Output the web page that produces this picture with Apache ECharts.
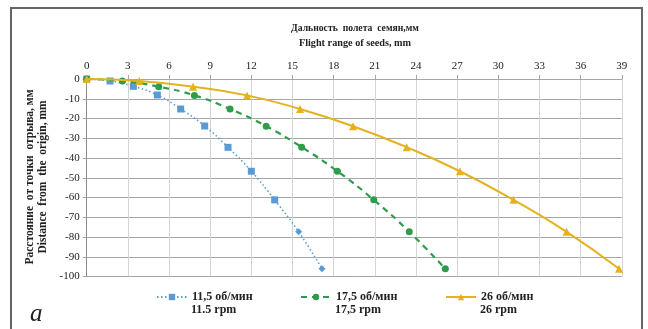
<!DOCTYPE html>
<html>
<head>
<meta charset="utf-8">
<script src="https://cdn.jsdelivr.net/npm/echarts@6/dist/echarts.min.js"></script>
<style>html,body{margin:0;padding:0;background:#fff;}#c{width:648px;height:329px;}</style>
</head>
<body>
<div id="c"></div>
<script>
// Data
const seriesNames = ['11,5 об/мин', '17,5 об/мин', '26 об/мин'];
const seriesSubNames = ['11.5 rpm', '17,5 rpm', '26 rpm'];
const xBlue   = [0, 1.7, 3.4, 5.15, 6.85, 8.6, 10.3, 12.0, 13.7, 15.45, 17.15];
const yBlue   = [0, -1.0, -3.7, -8.1, -15.2, -23.8, -34.6, -46.7, -61.2, -77.4, -96.1];
const xGreen  = [0, 2.6, 5.25, 7.85, 10.45, 13.08, 15.67, 18.27, 20.92, 23.51, 26.14];
const yGreen  = [0, -1.0, -3.9, -8.3, -15.2, -23.9, -34.5, -46.7, -61.2, -77.4, -96.1];
const xYellow = [0, 3.84, 7.75, 11.69, 15.55, 19.41, 23.32, 27.2, 31.1, 34.98, 38.8];
const yYellow = [0, -1.0, -3.9, -8.3, -15.2, -23.9, -34.5, -46.7, -61.2, -77.4, -96.1];
const xTicks = {min: 0, max: 39, step: 3};
const yTicks = {min: -100, max: 0, step: 10};
const titleLines = ['Дальность  полета  семян,мм', 'Flight range of seeds, mm'];
const yNameLines = ['Расстояние  от точки  отрыва, мм', 'Distance  from  the  origin, mm'];

const serif = '"Liberation Serif", "Times New Roman", serif';
const colors = ['#5b9bd5', '#2e9c4a', '#e4b21d'];
const pair = (xs, ys) => xs.map((x, i) => [x, ys[i]]);

const chart = echarts.init(document.getElementById('c'), null, {renderer: 'canvas'});
const legendX = [151, 295, 440];
chart.setOption({
  animation: false,
  backgroundColor: '#fff',
  grid: {left: 86.7, right: 26.2, top: 79, bottom: 52.5, containLabel: false},
  xAxis: {
    type: 'value', position: 'top', min: xTicks.min, max: xTicks.max, interval: xTicks.step,
    axisLine: {show: true, onZero: false, lineStyle: {color: '#a6a6a6', width: 1}},
    axisTick: {show: true, inside: false, length: 4, lineStyle: {color: '#a6a6a6'}},
    axisLabel: {fontFamily: serif, fontSize: 11, color: '#222', margin: 7},
    splitLine: {show: true, lineStyle: {color: '#d4d4d4', width: 1}}
  },
  yAxis: {
    type: 'value', min: yTicks.min, max: yTicks.max, interval: yTicks.step,
    axisLine: {show: true, onZero: false, lineStyle: {color: '#8c8c8c', width: 1}},
    axisTick: {show: true, inside: false, length: 4, lineStyle: {color: '#a6a6a6'}},
    axisLabel: {fontFamily: serif, fontSize: 11, color: '#222', margin: 7},
    splitLine: {show: true, lineStyle: {color: '#a6a6a6', width: 1}}
  },
  legend: seriesNames.map((n, i) => ({
    data: [n], left: legendX[i], top: 286, itemWidth: 30, itemHeight: 8, itemGap: 6,
    textStyle: {fontFamily: serif, fontSize: 12, fontWeight: 'bold', color: '#222'}
  })),
  series: [
    {name: seriesNames[0], type: 'line', smooth: true, z: 3,
     data: pair(xBlue, yBlue).map((p, i) => i >= 9 ? {value: p, symbol: 'diamond'} : {value: p}),
     symbol: 'rect', symbolSize: 7,
     itemStyle: {color: colors[0]}, lineStyle: {color: colors[0], width: 1.6, type: [1.5, 2.5]}},
    {name: seriesNames[1], type: 'line', data: pair(xGreen, yGreen), smooth: true, z: 4,
     symbol: 'circle', symbolSize: 7,
     itemStyle: {color: colors[1]}, lineStyle: {color: colors[1], width: 2.2, type: [6, 5]}},
    {name: seriesNames[2], type: 'line', data: pair(xYellow, yYellow), smooth: true, z: 5,
     symbol: 'triangle', symbolSize: 8,
     itemStyle: {color: colors[2]}, lineStyle: {color: colors[2], width: 2}}
  ],
  graphic: [
    {type: 'rect', shape: {x: 11, y: 8, width: 631, height: 340}, style: {fill: 'none', stroke: '#666', lineWidth: 2}, silent: true},
    {type: 'text', x: 355, y: 28, scaleX: 0.88, style: {text: titleLines[0], fontFamily: serif, fontSize: 11, fontWeight: 'bold', fill: '#222', textAlign: 'center', textVerticalAlign: 'middle'}},
    {type: 'text', x: 355, y: 43, scaleX: 0.93, style: {text: titleLines[1], fontFamily: serif, fontSize: 11, fontWeight: 'bold', fill: '#222', textAlign: 'center', textVerticalAlign: 'middle'}},
    {type: 'text', x: 30, y: 177, rotation: Math.PI / 2, style: {text: yNameLines[0], fontFamily: serif, fontSize: 11.5, fontWeight: 'bold', fill: '#222', textAlign: 'center', textVerticalAlign: 'middle'}},
    {type: 'text', x: 43, y: 177, rotation: Math.PI / 2, style: {text: yNameLines[1], fontFamily: serif, fontSize: 11.5, fontWeight: 'bold', fill: '#222', textAlign: 'center', textVerticalAlign: 'middle'}},
    ...seriesSubNames.map((s, i) => ({type: 'text', x: legendX[i] + 40, y: 310, style: {text: s, fontFamily: serif, fontSize: 12, fontWeight: 'bold', fill: '#222', textAlign: 'left', textVerticalAlign: 'middle'}})),
    {type: 'text', x: 30, y: 314, style: {text: 'a', fontFamily: serif, fontSize: 25, fontStyle: 'italic', fill: '#222', textAlign: 'left', textVerticalAlign: 'middle'}}
  ]
});
</script>
</body>
</html>
